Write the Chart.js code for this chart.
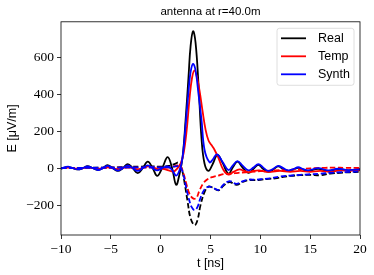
<!DOCTYPE html>
<html>
<head>
<meta charset="utf-8">
<script src="https://cdn.jsdelivr.net/npm/chart.js@4"></script>
<style>html,body{margin:0;background:#fff}</style>
</head>
<body>
<canvas id="c" width="374" height="275"></canvas>
<script>
// axis ticks
const xTicks = [-10, -5, 0, 5, 10, 15, 20];
const yTicks = [-200, 0, 200, 400, 600];

// Real, solid
const tReal = [-10,-9.3,-8.8,-8.3,-7.8,-7.35,-6.8,-6.3,-5.8,-5.35,-4.8,-4.3,-3.8,-3.3,-2.8,-2.3,-1.8,-1.3,-0.8,-0.35,0.15,0.7,1.15,1.55,1.9,2.2,2.5,2.8,3.0,3.25,3.5,3.8,4.1,4.4,4.8,5.2,5.7,6.2,6.8,7.25,7.7,8.2,8.8,9.3,9.8,10.3,10.8,11.3,11.8,12.3,12.8,13.3,13.8,14.3,14.8,15.8,16.8,17.8,18.8,20];
const realE = [-2,6,0,-7,0,11,0,-10,0,16,0,-15,0,22,0,-27,0,35,0,-42,0,60,0,-90,-30,60,260,500,660,742,680,450,160,25,-15,20,72,30,-30,5,35,5,-25,-5,18,-5,-20,-7,10,-5,-15,-8,2,-8,-15,-4,-15,-5,-12,-5];

// Temp, solid
const tTemp = [-10,-9.3,-8.3,-7.35,-6.3,-5.35,-4.3,-3.3,-2.3,-1.3,-0.8,-0.3,0.2,0.8,1.3,1.7,2.0,2.3,2.6,2.9,3.15,3.4,3.65,3.9,4.2,4.5,4.8,5.1,5.4,5.8,6.3,6.8,7.3,7.9,8.4,8.8,9.3,9.9,10.4,10.9,11.5,12,13,14,15,16,17,18,19,20];
const tempE = [0,3,-3,4,-4,5,-5,6,-6,10,5,-5,-3,-12,-18,0,25,80,200,380,490,530,490,420,310,210,150,125,100,55,-10,-35,-20,-7,-15,-22,-15,-12,-18,-20,-17,-15,-20,-15,-20,-15,-20,-12,-15,-10];

// Synth, solid
const tSynth = [-10,-9.3,-8.8,-8.3,-7.8,-7.35,-6.8,-6.3,-5.8,-5.35,-4.8,-4.3,-3.8,-3.3,-2.8,-2.3,-1.8,-1.3,-0.8,-0.35,0.15,0.7,1.15,1.55,1.9,2.2,2.5,2.8,3.0,3.25,3.5,3.8,4.1,4.4,4.9,5.2,5.65,6.2,6.8,7.25,7.7,8.2,8.8,9.3,9.8,10.3,10.8,11.3,11.8,12.3,12.8,13.3,13.8,14.3,14.8,15.8,16.8,17.8,18.8,20];
const synthE = [-2,8,0,-7,0,10,0,-10,0,13,0,-13,0,15,0,-15,0,15,0,-12,0,10,-10,-40,-10,60,230,420,520,565,530,400,260,100,32,45,75,35,-10,15,38,15,-12,3,22,3,-15,-3,12,0,-12,-5,5,-5,-12,0,-12,-3,-10,-6];

// dashed companions
const tRealD = [-10,-8,-6,-4,-3,-2,-1,0,0.8,1.5,1.8,2.1,2.4,2.7,3.0,3.4,3.7,4.0,4.4,4.8,5.2,5.8,6.3,6.9,7.6,8.2,8.8,9.5,10,10.8,11.5,12.3,13,14,15,16,17,18,19,20];
const realD = [0,2,3,5,8,8,10,8,12,25,30,0,-80,-180,-270,-308,-280,-200,-130,-100,-105,-120,-95,-75,-90,-75,-65,-65,-63,-58,-55,-47,-42,-38,-36,-38,-30,-25,-22,-20];
const tTempD = [-10,-6,-2,0,1,1.7,2.0,2.3,2.6,2.9,3.3,3.6,3.9,4.3,4.7,5.2,5.8,6.3,7,7.8,8.5,9.5,10.5,11.5,12.5,13.5,14.5,15.5,16.5,17.5,18.5,19.5,20];
const tempD = [0,2,3,3,5,15,10,-30,-90,-140,-165,-160,-120,-80,-60,-48,-40,-32,-30,-25,-22,-18,-15,-12,-10,-7,-3,0,2,3,2,2,0];
const tSynthD = [-10,-5,-1,0.8,1.5,1.9,2.2,2.5,2.8,3.1,3.4,3.7,4.0,4.4,4.8,5.2,5.8,6.3,6.9,7.6,8.2,8.8,9.5,10,11,12,13,14,15,16,17,18,19,20];
const synthD = [0,3,5,5,10,10,-20,-90,-160,-210,-227,-210,-160,-115,-100,-105,-118,-90,-70,-85,-72,-62,-62,-60,-55,-45,-40,-36,-33,-30,-25,-22,-20,-18];

const pts = (ts, vs) => ts.map((t, i) => ({x: t, y: vs[i]}));
const minus = v => String(v).replace('-', '\u2212');

function line(label, ts, vs, color, dashed, order){
  return {
    label, data: pts(ts, vs), borderColor: color, borderWidth: 1.8,
    borderDash: dashed ? [5.5, 2.5] : [], pointRadius: 0, tension: 0.4,
    fill: false, order, inLegend: !dashed
  };
}

const frameAndLegend = {
  id: 'frameAndLegend',
  afterDraw(chart){
    const {ctx, chartArea: a} = chart;
    ctx.save();
    ctx.strokeStyle = '#000';
    ctx.lineWidth = 0.8;
    ctx.strokeRect(a.left, a.top, a.right - a.left, a.bottom - a.top);

    // legend box, upper right
    const bw = 77, bh = 57;
    const bx = a.right - 6 - bw, by = a.top + 6.5;
    ctx.beginPath();
    ctx.roundRect(bx, by, bw, bh, 2.5);
    ctx.fillStyle = 'rgba(255,255,255,0.8)';
    ctx.fill();
    ctx.strokeStyle = '#d6d6d6';
    ctx.lineWidth = 0.8;
    ctx.stroke();

    const items = chart.data.datasets.filter(d => d.inLegend).sort((p, q) => p.legendIdx - q.legendIdx);
    ctx.font = '12.5px "Liberation Sans", Arial, sans-serif';
    ctx.textBaseline = 'middle';
    items.forEach((d, i) => {
      const y = by + 10 + i * 18;
      ctx.beginPath();
      ctx.moveTo(bx + 4, y);
      ctx.lineTo(bx + 29, y);
      ctx.strokeStyle = d.borderColor;
      ctx.lineWidth = 1.8;
      ctx.stroke();
      ctx.fillStyle = '#000';
      ctx.fillText(d.label, bx + 41, y);
    });
    ctx.restore();
  }
};

const datasets = [
  Object.assign(line('Synth', tSynth, synthE, '#0000ff', false, 1), {legendIdx: 2}),
  line('Synth dashed', tSynthD, synthD, '#0000ff', true, 2),
  Object.assign(line('Temp', tTemp, tempE, '#ff0000', false, 3), {legendIdx: 1}),
  line('Temp dashed', tTempD, tempD, '#ff0000', true, 4),
  Object.assign(line('Real', tReal, realE, '#000000', false, 5), {legendIdx: 0}),
  line('Real dashed', tRealD, realD, '#000000', true, 6)
];

const serif = {family: '"Liberation Serif", "DejaVu Serif", serif', size: 13.5};
const sans = {family: '"Liberation Sans", Arial, sans-serif', size: 12.5};
const gridOpts = {display: true, drawOnChartArea: false, drawTicks: true, tickLength: 4, color: '#000', lineWidth: 0.8};

new Chart(document.getElementById('c'), {
  type: 'line',
  data: {datasets},
  options: {
    responsive: false,
    animation: false,
    devicePixelRatio: 1,
    layout: {padding: {left: 0, right: 14, top: 0, bottom: 0}},
    plugins: {
      legend: {display: false},
      tooltip: {enabled: false},
      title: {
        display: true, text: 'antenna at r=40.0m', fullSize: false,
        color: '#000', font: Object.assign({}, sans, {weight: 'normal', size: 11.5}),
        padding: {top: 5, bottom: 3}
      }
    },
    scales: {
      x: {
        type: 'linear', min: -10, max: 20,
        afterBuildTicks: s => { s.ticks = xTicks.map(v => ({value: v})); },
        afterFit: s => { s.height = 40; },
        ticks: {color: '#000', font: serif, padding: 2, maxRotation: 0, callback: v => minus(v)},
        grid: gridOpts,
        border: {display: false},
        title: {display: true, text: 't [ns]', color: '#000', font: sans, padding: {top: 0, bottom: 4}}
      },
      y: {
        type: 'linear', min: -362, max: 793,
        afterBuildTicks: s => { s.ticks = yTicks.map(v => ({value: v})); },
        afterFit: s => { s.width = 61; },
        ticks: {color: '#000', font: serif, padding: 3, callback: v => minus(v)},
        grid: gridOpts,
        border: {display: false},
        title: {display: true, text: 'E [\u03bcV/m]', color: '#000', font: sans, padding: {top: 5, bottom: 0}}
      }
    }
  },
  plugins: [frameAndLegend]
});
</script>
</body>
</html>
